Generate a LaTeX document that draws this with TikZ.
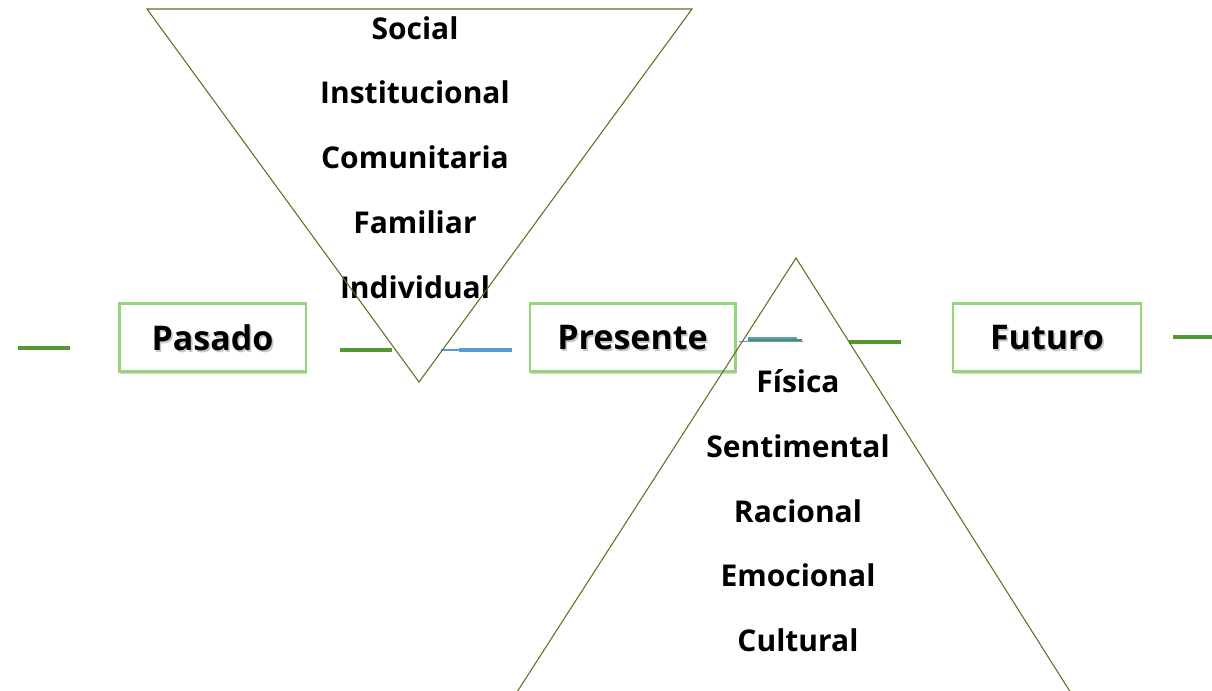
\documentclass[tikz,border=0pt]{standalone}
\usepackage{fontspec}
\setmainfont{Open Sans}
\usetikzlibrary{shadows}

\begin{document}
\begin{tikzpicture}[x=0.75pt,y=0.75pt,yscale=-1,
  timebox/.style={draw={rgb, 255:red, 150; green, 212; blue, 124 },fill=white,line width=2pt,inner sep=0pt,minimum height=51pt,
    font=\bfseries\fontsize{25.5}{30}\selectfont,
    drop shadow={shadow xshift=0.8pt,shadow yshift=-1.8pt,opacity=0.15,fill=black}},
  level/.style={inner sep=0pt,font=\bfseries\fontsize{22.5}{27}\selectfont},
  tri/.style={color={rgb, 255:red, 98; green, 112; blue, 34 },line width=0.8pt},
  gline/.style={color={rgb, 255:red, 84; green, 152; blue, 52 },line width=2.3pt},
  bline/.style={color={rgb, 255:red, 91; green, 155; blue, 213 },line width=3pt}]

\useasboundingbox (0,0) rectangle (1212,691);
\clip (0,0) rectangle (1212,691);

%Shape: Rectangle [id:pasado]
\node [timebox,minimum width=140pt] (pasado) at (212.5,337.5)
  {\makebox[0pt][l]{\raisebox{-1.6pt}[0pt][0pt]{\hspace{1.2pt}\color{black!22}Pasado}}Pasado};
%Shape: Rectangle [id:presente]
\node [timebox,minimum width=154pt] (presente) at (632.5,337.5)
  {\makebox[0pt][l]{\raisebox{-1.6pt}[0pt][0pt]{\hspace{1.2pt}\color{black!22}Presente}}Presente};
%Shape: Rectangle [id:futuro]
\node [timebox,minimum width=141pt] (futuro) at (1047,337.5)
  {\makebox[0pt][l]{\raisebox{-1.6pt}[0pt][0pt]{\hspace{1.2pt}\color{black!22}Futuro}}Futuro};

%Straight Lines [id:green]
\coordinate (ga1) at (18,348);   \coordinate (ga2) at (70,348);
\coordinate (gb1) at (340,350);  \coordinate (gb2) at (392,350);
\coordinate (gc1) at (849,342);  \coordinate (gc2) at (901,342);
\coordinate (gd1) at (1173,337); \coordinate (gd2) at (1212,337);
\draw [gline] (ga1) -- (ga2) ;
\draw [gline] (gb1) -- (gb2) ;
\draw [gline] (gc1) -- (gc2) ;
\draw [gline] (gd1) -- (gd2) ;
%Straight Lines [id:blue]
\coordinate (ba1) at (441,350); \coordinate (ba2) at (459,350); \coordinate (ba3) at (512,350);
\draw [bline,line width=1.6pt] (ba1) -- (ba2) ;
\draw [bline] (ba2) -- (ba3) ;
%Straight Lines [id:double]
\coordinate (bb1) at (739,341.5); \coordinate (bb2) at (803,341.5);
\coordinate (bc1) at (748,338);   \coordinate (bc2) at (797,338);
\coordinate (gx1) at (748,340);   \coordinate (gx2) at (802,340);
\draw [bline,line width=1.3pt] (bb1) -- (bb2) ;
\draw [bline,line width=1.3pt] (bc1) -- (bc2) ;
\draw [gline,line width=1.4pt] (gx1) -- (gx2) ;

% Text Node
\node [level] (social) at (415,28) {Social};
\node [level] (instit) at (415,92) {Institucional};
\node [level] (comun) at (415,157) {Comunitaria};
\node [level] (famil) at (415,222) {Familiar};
\node [level] (indiv) at (415,287) {Individual};
% Text Node
\node [level] (fisica) at (798,381) {Física};
\node [level] (sentim) at (798,446) {Sentimental};
\node [level] (racion) at (798,511) {Racional};
\node [level] (emoc) at (798,575) {Emocional};
\node [level] (cultur) at (798,640) {Cultural};

%Shape: Triangle [id:down]
\coordinate (dl) at (147,9); \coordinate (dr) at (692,9); \coordinate (dv) at (419,382);
\draw [tri] (dl) -- (dr) -- (dv) -- cycle ;
%Shape: Triangle [id:up]
\coordinate (uv) at (796,258); \coordinate (ur) at (1088,720); \coordinate (ul) at (499,720);
\draw [tri] (uv) -- (ur) -- (ul) -- cycle ;
\end{tikzpicture}
\end{document}
